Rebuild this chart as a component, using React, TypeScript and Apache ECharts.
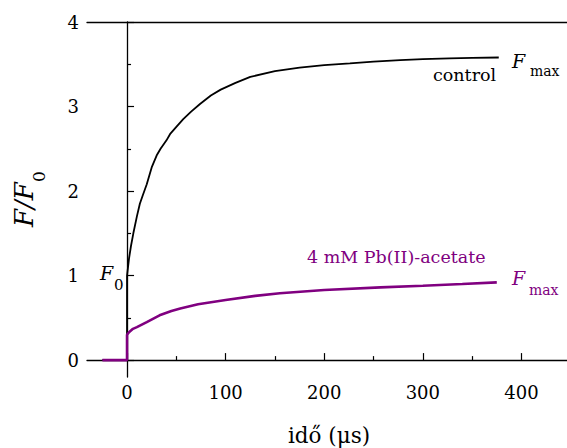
import React, { useEffect, useRef } from "react";
import * as echarts from "echarts";

// time (µs) and F/F0 values
const controlT = [-25, -15, -5, 0, 0, 0.5, 2, 4, 6.4, 10, 13, 16, 20, 25, 30, 34, 40, 44, 50, 57, 65, 74, 85, 95, 110, 125, 150, 175, 200, 226, 250, 277, 300, 327, 350, 377];
const controlV = [0, 0, 0, 0, 1.0, 1.05, 1.2, 1.35, 1.5, 1.7, 1.85, 1.95, 2.08, 2.28, 2.42, 2.5, 2.6, 2.68, 2.76, 2.85, 2.94, 3.03, 3.13, 3.2, 3.28, 3.35, 3.42, 3.46, 3.49, 3.51, 3.53, 3.55, 3.56, 3.57, 3.575, 3.58];

const leadT = [-25, -15, -5, 0, 0, 2, 6, 10, 20, 33, 45, 54, 72, 100, 130, 155, 200, 257, 300, 340, 375];
const leadV = [0, 0, 0, 0, 0.3, 0.33, 0.37, 0.39, 0.45, 0.53, 0.58, 0.61, 0.66, 0.71, 0.76, 0.79, 0.83, 0.86, 0.88, 0.9, 0.92];

const xMajorTicks = [0, 100, 200, 300, 400];
const xMinorTicks = [50, 150, 250, 350];
const yMajorTicks = [0, 1, 2, 3, 4];
const yMinorTicks = [0.5, 1.5, 2.5, 3.5];

const SERIF = "DejaVu Serif";
const PURPLE = "#800080";

export default function App() {
  const ref = useRef<HTMLDivElement>(null);
  useEffect(() => {
    if (!ref.current) return;
    const chart = echarts.init(ref.current, undefined, { renderer: "svg" });
    const axisLine = { show: true, lineStyle: { color: "#000", width: 1.3 } };
    const txt = (text: string, x: number, y: number, size: number, color: string, italic = false, extra: any = {}) => {
      const style: any = {
        text,
        fill: color,
        fontSize: size,
        fontFamily: SERIF,
        align: "left",
        verticalAlign: "middle",
      };
      if (italic) style.fontStyle = "italic";
      return { type: "text", x, y, ...extra, style };
    };
    chart.setOption({
      animation: false,
      textStyle: { fontFamily: SERIF },
      grid: { left: 87, top: 22, right: 0, bottom: 71, containLabel: false },
      xAxis: [
        {
          type: "value",
          min: -40.6,
          max: 446.2,
          position: "bottom",
          axisLine,
          axisTick: { show: true, inside: true, length: 7, customValues: xMajorTicks, lineStyle: { color: "#000", width: 1.2 } },
          axisLabel: { customValues: xMajorTicks, color: "#000", fontSize: 18, fontFamily: SERIF, margin: 6 },
          splitLine: { show: false },
        },
        {
          type: "value",
          min: -40.6,
          max: 446.2,
          position: "bottom",
          axisLine: { show: false },
          axisTick: { show: true, inside: true, length: 4, customValues: xMinorTicks, lineStyle: { color: "#000", width: 1.2 } },
          axisLabel: { show: false },
          splitLine: { show: false },
        },
        {
          type: "value",
          min: -40.6,
          max: 446.2,
          position: "top",
          axisLine,
          axisTick: { show: false },
          axisLabel: { show: false },
          splitLine: { show: false },
        },
      ],
      yAxis: [
        {
          type: "value",
          min: -0.2,
          max: 4,
          position: "left",
          axisLine,
          axisTick: { show: true, inside: true, length: 7, customValues: yMajorTicks, lineStyle: { color: "#000", width: 1.2 } },
          axisLabel: { customValues: yMajorTicks, color: "#000", fontSize: 18, fontFamily: SERIF, margin: 8 },
          splitLine: { show: false },
        },
        {
          type: "value",
          min: -0.2,
          max: 4,
          position: "left",
          axisLine: { show: false },
          axisTick: { show: true, inside: true, length: 4, customValues: yMinorTicks, lineStyle: { color: "#000", width: 1.2 } },
          axisLabel: { show: false },
          splitLine: { show: false },
        },
      ],
      series: [
        {
          type: "line",
          xAxisIndex: 0,
          yAxisIndex: 0,
          data: controlT.map((t, i) => [t, controlV[i]]),
          showSymbol: false,
          symbol: "none",
          lineStyle: { color: "#000", width: 1.8 },
        },
        {
          type: "line",
          xAxisIndex: 0,
          yAxisIndex: 0,
          data: leadT.map((t, i) => [t, leadV[i]]),
          showSymbol: false,
          symbol: "none",
          lineStyle: { color: PURPLE, width: 2.6 },
        },
      ],
      graphic: [
        txt("control", 433, 74.9, 17.5, "#000"),
        txt("F", 512, 61.4, 19, "#000", true),
        txt("max", 530, 71.2, 14, "#000"),
        txt("F", 100, 273.4, 19, "#000", true),
        txt("0", 114, 284.8, 15, "#000"),
        txt("4 mM Pb(II)-acetate", 307, 257.2, 17.5, PURPLE),
        txt("F", 512, 278.4, 19, PURPLE, true),
        txt("max", 529, 290.2, 14, PURPLE),
        {
          type: "text",
          x: 329,
          y: 435.5,
          style: { text: "idő (μs)", fill: "#000", fontSize: 21.5, fontFamily: SERIF, align: "center", verticalAlign: "middle" },
        },
        txt("F/F", 24, 227, 26, "#000", true, { rotation: Math.PI / 2 }),
        txt("0", 39.1, 182, 17, "#000", false, { rotation: Math.PI / 2 }),
      ],
    });
    return () => chart.dispose();
  }, []);
  return <div ref={ref} style={{ position: "absolute", left: 0, top: 0, width: 567, height: 448 }} />;
}
